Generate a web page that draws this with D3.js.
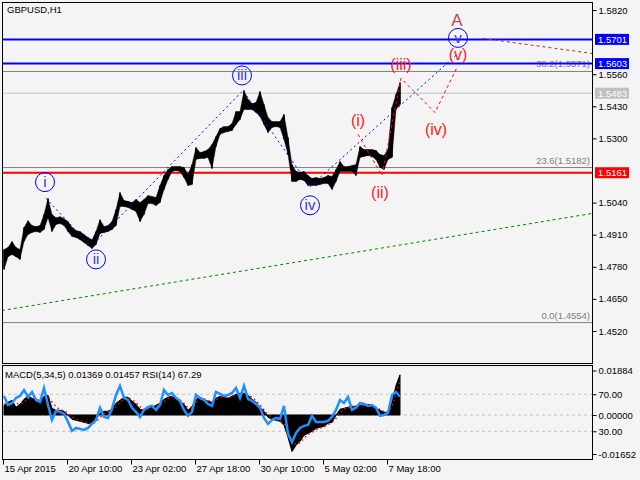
<!DOCTYPE html>
<html><head><meta charset="utf-8">
<script src="https://cdn.jsdelivr.net/npm/d3@7"></script>
<style>
html,body{margin:0;padding:0;background:#f4f4f4;}
svg{display:block;font-family:"Liberation Sans",Arial,sans-serif;}
</style></head><body>
<svg id="c" width="640" height="480"></svg>
<script>
// ---------------- data ----------------
const symbolTitle = "GBPUSD,H1";
const indicatorTitle = "MACD(5,34,5) 0.01369 0.01457 RSI(14) 67.29";
const bucketBars = 4; // each value summarises 4 hourly bars
const priceHigh = [
1.4850,1.4858,1.4882,1.4858,1.4850,1.4939,1.4967,1.4947,1.4943,1.4947,
1.4992,1.5057,1.4992,1.4979,1.4983,1.4975,1.4963,1.4939,1.4927,1.4923,
1.4911,1.4899,1.4890,1.4923,1.4971,1.4943,1.4947,1.4963,1.5012,1.5081,
1.5049,1.5045,1.5040,1.5053,1.5040,1.5053,1.5069,1.5065,1.5061,1.5109,
1.5150,1.5174,1.5186,1.5186,1.5186,1.5182,1.5154,1.5194,1.5263,1.5243,
1.5247,1.5255,1.5275,1.5308,1.5340,1.5348,1.5348,1.5360,1.5409,1.5409,
1.5494,1.5458,1.5441,1.5445,1.5490,1.5437,1.5385,1.5368,1.5368,1.5368,
1.5397,1.5304,1.5194,1.5166,1.5162,1.5166,1.5150,1.5138,1.5142,1.5138,
1.5142,1.5150,1.5146,1.5174,1.5206,1.5186,1.5186,1.5190,1.5194,1.5267,
1.5255,1.5255,1.5255,1.5251,1.5235,1.5231,1.5255,1.5425,1.5478,1.5526];
const priceLow = [
1.4769,1.4821,1.4830,1.4821,1.4810,1.4882,1.4911,1.4919,1.4923,1.4919,
1.4931,1.4979,1.4923,1.4951,1.4955,1.4947,1.4923,1.4903,1.4899,1.4890,
1.4878,1.4866,1.4854,1.4870,1.4915,1.4919,1.4923,1.4931,1.4947,1.5024,
1.5024,1.5020,1.5012,1.5004,1.4963,1.4992,1.5036,1.5036,1.5028,1.5040,
1.5093,1.5134,1.5166,1.5170,1.5166,1.5142,1.5109,1.5113,1.5215,1.5219,
1.5219,1.5223,1.5178,1.5267,1.5316,1.5324,1.5328,1.5332,1.5356,1.5377,
1.5417,1.5417,1.5417,1.5405,1.5389,1.5356,1.5324,1.5344,1.5348,1.5344,
1.5296,1.5235,1.5125,1.5125,1.5134,1.5130,1.5109,1.5109,1.5109,1.5113,
1.5117,1.5117,1.5093,1.5125,1.5166,1.5166,1.5166,1.5166,1.5150,1.5223,
1.5227,1.5231,1.5227,1.5215,1.5182,1.5174,1.5215,1.5223,1.5417,1.5437];
const macdHist = [
0.00412,0.00539,0.00624,0.00327,0.00454,0.00666,0.00794,0.00709,0.00624,0.00539,
0.00794,0.00836,0.00284,0.00199,0.00199,0.00157,-0.00013,-0.00182,-0.00225,-0.00267,
-0.00310,-0.00352,-0.00395,-0.00182,0.00072,0.00157,0.00157,0.00242,0.00497,0.00624,
0.00751,0.00751,0.00581,0.00454,0.00242,0.00199,0.00284,0.00327,0.00412,0.00497,
0.00666,0.00751,0.00794,0.00709,0.00581,0.00454,0.00199,0.00369,0.00666,0.00751,
0.00666,0.00581,0.00539,0.00709,0.00794,0.00751,0.00709,0.00794,0.00879,0.00921,
0.00921,0.00836,0.00666,0.00539,0.00327,0.00157,-0.00098,-0.00182,-0.00225,-0.00267,
-0.00437,-0.00946,-0.01550,-0.01286,-0.01116,-0.00862,-0.00777,-0.00692,-0.00564,-0.00522,
-0.00480,-0.00352,-0.00310,-0.00013,0.00242,0.00284,0.00327,0.00369,0.00369,0.00412,
0.00412,0.00454,0.00412,0.00284,0.00199,0.00115,0.00115,0.00539,0.01250,0.01700];
const macdSignal = [
0.0045,0.0048,0.0055,0.0050,0.0045,0.0055,0.0068,0.0072,0.0068,0.0060,
0.0068,0.0078,0.0055,0.0035,0.0022,0.0018,0.0008,-0.0008,-0.0018,-0.0024,
-0.0028,-0.0033,-0.0037,-0.0030,-0.0012,0.0005,0.0013,0.0019,0.0035,0.0053,
0.0068,0.0074,0.0066,0.0052,0.0035,0.0024,0.0025,0.0030,0.0037,0.0045,
0.0058,0.0070,0.0077,0.0074,0.0063,0.0050,0.0030,0.0030,0.0052,0.0068,
0.0068,0.0062,0.0056,0.0064,0.0075,0.0076,0.0073,0.0077,0.0084,0.0090,
0.0092,0.0087,0.0075,0.0060,0.0042,0.0022,0.0002,-0.0013,-0.0020,-0.0025,
-0.0035,-0.0070,-0.0115,-0.0125,-0.0118,-0.0098,-0.0083,-0.0073,-0.0062,-0.0055,
-0.0050,-0.0040,-0.0033,-0.0015,0.0010,0.0025,0.0030,0.0034,0.0036,0.0040,
0.0041,0.0044,0.0042,0.0033,0.0024,0.0015,0.0012,0.0035,0.0090,0.0145];
const rsiValues = [
68.2,58.4,60.6,66.0,68.2,74.6,67.1,72.5,63.8,61.7,
76.8,58.4,42.2,52.0,50.9,48.7,40.1,30.4,33.6,32.6,
31.5,33.6,38.0,42.2,55.4,45.5,44.4,54.3,69.2,79.0,
66.0,63.8,55.4,50.9,45.5,53.1,56.3,57.4,53.1,58.4,
74.6,69.2,71.4,66.0,62.8,53.1,46.6,50.9,69.2,66.0,
63.8,59.5,57.4,72.5,70.3,68.2,69.2,71.4,76.8,66.0,
79.0,64.9,62.8,59.5,55.4,44.4,38.0,42.2,44.4,43.3,
57.4,27.1,18.4,28.2,33.6,35.8,36.8,46.6,40.1,40.1,
40.1,41.1,45.5,53.1,63.8,60.6,67.1,53.1,55.4,60.6,
59.5,57.4,58.4,55.4,46.6,47.6,49.8,69.2,72.5,67.3];

const timeTickBars = [0,64,128,192,256,320,384];
const timeTickLabels = ["15 Apr 2015","20 Apr 10:00","23 Apr 02:00","27 Apr 18:00","30 Apr 10:00","5 May 02:00","7 May 18:00"];
const priceTicks = [1.5820,1.5560,1.5430,1.5300,1.5040,1.4910,1.4780,1.4650,1.4520];
const blueLevels = [1.5701,1.5603];
const redLevels = [1.5161];
const bidPrice = 1.5483;
const fibPrices = [1.5571,1.5182,1.4554];
const fibNames = ["38.2","23.6","0.0"];
const macdTicks = [0.01884,0.00000,-0.01652];
const rsiLevels = [70,30];

// Elliott wave annotations (bar index, price)
const blueWaveBars = [43,88,240,307,454];
const blueWavePrices = [1.5057,1.4862,1.5494,1.5105,1.5640];
const blueLabelText = ["i","ii","iii","iv","v"];
const blueLabelBars = [42,93,239,307,455];
const blueLabelPrices = [1.5123,1.4810,1.5555,1.5029,1.5707];
const redWaveBars = [355,379,398,432,454];
const redWavePrices = [1.5316,1.5150,1.5543,1.5405,1.5587];
const redLabelText = ["(i)","(ii)","(iii)","(iv)","(v)"];
const redLabelBars = [355,377,398,433,455];
const redLabelPrices = [1.5372,1.5081,1.5601,1.5338,1.5641];
const majorLabel = "A";
const majorLabelBar = 454;
const majorLabelPrice = 1.5780;
const projBars = [480,589];
const projPrices = [1.5705,1.5644];
const trendBars = [-1,589];
const trendPrices = [1.4603,1.4996];

// ---------------- drawing ----------------
const svg = d3.select("#c");
const FONT = "9.5px";
const L = 2, R = 592, T = 2, MB = 363, ST = 365, SB = 459;

const x = d3.scaleLinear().domain([0,590]).range([3,593]);
const y = d3.scaleLinear().domain([1.4520,1.5820]).range([331,10]);
const yM = d3.scaleLinear().domain([-0.01652,0.01884]).range([454,370.5]);
const yR = d3.scaleLinear().domain([0,100]).range([459,366.5]);
const bx = i => x(i*bucketBars+1);

svg.append("rect").attr("width",640).attr("height",480).attr("fill","#f4f4f4");

const defs = svg.append("defs");
defs.append("clipPath").attr("id","cm").append("rect").attr("x",L).attr("y",T).attr("width",R-L).attr("height",MB-T);
defs.append("clipPath").attr("id","cs").append("rect").attr("x",L).attr("y",ST).attr("width",R-L).attr("height",SB-ST);

const gm = svg.append("g").attr("clip-path","url(#cm)");

// fib levels
fibPrices.forEach((p,i)=>{
  gm.append("line").attr("x1",L).attr("x2",R).attr("y1",y(p)).attr("y2",y(p)).attr("stroke","#808080").attr("stroke-width",1);
  gm.append("text").attr("x",590).attr("y",y(p)-4).attr("text-anchor","end").attr("font-size",FONT).attr("fill","#808080")
    .text(fibNames[i]+"("+p.toFixed(4)+")");
});
// bid line
gm.append("line").attr("x1",L).attr("x2",R).attr("y1",y(bidPrice)).attr("y2",y(bidPrice)).attr("stroke","#c0c0c0");
// trend line
gm.append("path").attr("d",d3.line()(trendBars.map((b,i)=>[x(b),y(trendPrices[i])])))
  .attr("stroke","#008000").attr("stroke-dasharray","3,3").attr("fill","none");
// blue / red levels
blueLevels.forEach(p=>gm.append("line").attr("x1",L).attr("x2",R).attr("y1",y(p)).attr("y2",y(p)).attr("stroke","#0000ff").attr("stroke-width",2));
redLevels.forEach(p=>gm.append("line").attr("x1",L).attr("x2",R).attr("y1",y(p)).attr("y2",y(p)).attr("stroke","#ff0000").attr("stroke-width",2));

// price bars
const area = d3.area().x((d,i)=>bx(i)).y0((d,i)=>y(priceLow[i])).y1(d=>y(d));
gm.append("path").attr("d",area(priceHigh)).attr("fill","#000").attr("stroke","#000").attr("stroke-width",0.4);
priceHigh.forEach((h,i)=>{
  gm.append("line").attr("x1",bx(i)).attr("x2",bx(i)).attr("y1",y(h)).attr("y2",y(priceLow[i])).attr("stroke","#000").attr("stroke-width",1.5);
});

// wave lines
gm.append("path").attr("d",d3.line()(blueWaveBars.map((b,i)=>[x(b),y(blueWavePrices[i])])))
  .attr("stroke","#0000ff").attr("stroke-dasharray","2,3").attr("fill","none");
gm.append("path").attr("d",d3.line()(redWaveBars.map((b,i)=>[x(b),y(redWavePrices[i])])))
  .attr("stroke","#ff0000").attr("stroke-dasharray","3,3").attr("fill","none");
gm.append("path").attr("d",d3.line()(projBars.map((b,i)=>[x(b),y(projPrices[i])])))
  .attr("stroke","#b03030").attr("stroke-dasharray","3,3").attr("fill","none");

// wave labels
blueLabelText.forEach((t,i)=>{
  const cx = x(blueLabelBars[i]), cy = y(blueLabelPrices[i]);
  gm.append("circle").attr("cx",cx).attr("cy",cy).attr("r",9.5).attr("fill","none").attr("stroke","#0000ff").attr("stroke-width",1);
  gm.append("text").attr("x",cx).attr("y",cy+5).attr("text-anchor","middle").attr("font-size","15px").attr("fill","#3535ff").text(t);
});
redLabelText.forEach((t,i)=>{
  gm.append("text").attr("x",x(redLabelBars[i])).attr("y",y(redLabelPrices[i])+5.5).attr("text-anchor","middle")
    .attr("font-size","16px").attr("fill","#ff1a1a").text(t);
});
gm.append("text").attr("x",x(majorLabelBar)).attr("y",y(majorLabelPrice)+6).attr("text-anchor","middle")
  .attr("font-size","17px").attr("fill","#b84a4a").text(majorLabel);

gm.append("text").attr("x",7).attr("y",13).attr("font-size",FONT).attr("fill","#000").text(symbolTitle);

// ---------- sub window ----------
const gs = svg.append("g").attr("clip-path","url(#cs)");
[yR(70), yM(0), yR(30)].forEach(v=>{
  gs.append("line").attr("x1",L).attr("x2",R).attr("y1",v).attr("y2",v).attr("stroke","#c0c0c0").attr("stroke-dasharray","3,3");
});
gs.append("path").attr("d",d3.area().x((d,i)=>bx(i)).y0(yM(0)).y1(d=>yM(d))(macdHist)).attr("fill","#000").attr("stroke","#000").attr("stroke-width",1);
gs.append("path").attr("d",d3.line().x((d,i)=>bx(i)).y(d=>yM(d))(macdSignal)).attr("fill","none").attr("stroke","#ff0000").attr("stroke-width",1.5).attr("stroke-dasharray","1.5,3");
gs.append("path").attr("d",d3.line().x((d,i)=>bx(i)).y(d=>yR(d))(rsiValues)).attr("fill","none").attr("stroke","#1e90ff").attr("stroke-width",2.5);
gs.append("text").attr("x",5).attr("y",378).attr("font-size",FONT).attr("fill","#000").text(indicatorTitle);

// frames
svg.append("rect").attr("x",L+0.5).attr("y",T+0.5).attr("width",R-L).attr("height",MB-T).attr("fill","none").attr("stroke","#000");
svg.append("rect").attr("x",L+0.5).attr("y",ST+0.5).attr("width",R-L).attr("height",SB-ST).attr("fill","none").attr("stroke","#000");

// axes
function styleAxis(g){
  g.select(".domain").remove();
  g.selectAll("line").attr("stroke","#000");
  g.selectAll("text").attr("font-size",FONT).attr("font-family","Liberation Sans, Arial, sans-serif").attr("fill","#000");
}
svg.append("g").attr("transform",`translate(${R+0.5},0)`)
  .call(d3.axisRight(y).tickValues(priceTicks).tickSize(4).tickPadding(2).tickFormat(d=>d.toFixed(4))).call(styleAxis);
svg.append("g").attr("transform",`translate(${R+0.5},0)`)
  .call(d3.axisRight(yM).tickValues(macdTicks).tickSize(4).tickPadding(2).tickFormat(d=>d.toFixed(5))).call(styleAxis);
svg.append("g").attr("transform",`translate(${R+0.5},0)`)
  .call(d3.axisRight(yR).tickValues(rsiLevels).tickSize(4).tickPadding(2).tickFormat(d=>d.toFixed(2))).call(styleAxis);
const gx = svg.append("g").attr("transform",`translate(0,${SB+0.5})`)
  .call(d3.axisBottom(x).tickValues(timeTickBars).tickSize(5).tickFormat((d,i)=>timeTickLabels[i])).call(styleAxis);
gx.selectAll("text").attr("text-anchor","start").attr("dx",1).attr("y",6).attr("dy","0.71em");

// price level tags
function tag(p,color){
  const cy = y(p);
  svg.append("rect").attr("x",595).attr("y",cy-5.5).attr("width",34).attr("height",11).attr("fill",color);
  svg.append("text").attr("x",598).attr("y",cy+3.5).attr("font-size",FONT).attr("fill","#fff").text(p.toFixed(4));
}
blueLevels.forEach(p=>tag(p,"#0000ff"));
redLevels.forEach(p=>tag(p,"#ff0000"));
tag(bidPrice,"#c0c0c0");
</script>
</body></html>
